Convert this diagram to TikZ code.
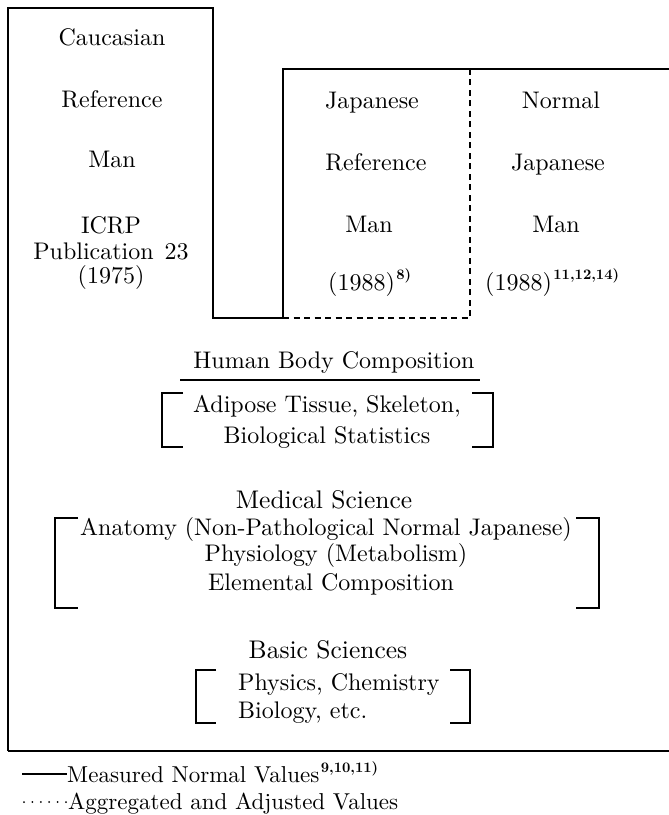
\documentclass[tikz,border=0pt]{standalone}
\usepackage{fontspec}
\setmainfont{lmroman10-regular.otf}[BoldFont=lmroman10-bold.otf]
\newcommand{\refsup}[1]{\kern1.5pt\raisebox{0.42em}{\fontsize{14.5}{14.5}\selectfont\bfseries #1}}
\begin{document}
\begin{tikzpicture}[x=1pt,y=-1pt,
  frameline/.style={line width=2.1pt, line join=miter},
  dashline/.style={line width=2.1pt, dash pattern=on 6pt off 4.5pt},
  bracketline/.style={line width=1.9pt},
  txt/.style={inner sep=0pt, anchor=base, font=\fontsize{24}{28}\selectfont},
  txtw/.style={inner sep=0pt, anchor=base west, font=\fontsize{24}{28}\selectfont},
  head/.style={inner sep=0pt, anchor=base, font=\fontsize{25.5}{30}\selectfont},
  legtxt/.style={inner sep=0pt, anchor=base west, font=\fontsize{23}{27}\selectfont},
]
\useasboundingbox (0,0) rectangle (669,815);

% frame coordinates
\coordinate (tl) at (8,8);
\coordinate (ctr) at (213,8);
\coordinate (cbr) at (213,318);
\coordinate (jbl) at (283,318);
\coordinate (jtl) at (283,69);
\coordinate (tr) at (669,69);
\coordinate (dtop) at (470,69);
\coordinate (dbot) at (470,318);
\coordinate (bl) at (8,751);
\coordinate (br) at (669,751);

\draw[frameline] (bl) -- (tl) -- (ctr) -- (cbr) -- (jbl) -- (jtl) -- (tr);
\draw[frameline] (bl) -- (br);
\draw[dashline] (jbl) -- (dbot) -- (dtop);

% Caucasian column
\node[txt] (c1) at (112,45) {Caucasian};
\node[txt] (c2) at (112,107) {Reference};
\node[txt] (c3) at (112,167) {Man};
\node[txt] (c4) at (111,233) {ICRP};
\node[txt] (c5) at (111,259) {Publication\hspace{3pt} 23};
\node[txt] (c6) at (111,283) {(1975)};

% Japanese Reference Man column
\node[txt] (j1) at (372,108) {Japanese};
\node[txt] (j2) at (376,170) {Reference};
\node[txt] (j3) at (369,232) {Man};
\node[txtw] (j4) at (328,290) {(1988)\refsup{8)}};

% Normal Japanese Man column
\node[txt] (n1) at (561,108) {Normal};
\node[txt] (n2) at (558,170) {Japanese};
\node[txt] (n3) at (556,232) {Man};
\node[txtw] (n4) at (485,290) {(1988)\refsup{11,12,14)}};

% Human body composition
\node[txt] (hbc) at (334,368) {Human Body Composition};
\coordinate (ulA) at (180,380);
\coordinate (ulB) at (480,380);
\draw[bracketline] (ulA) -- (ulB);
\node[txt] (ad1) at (327,412) {Adipose Tissue, Skeleton,};
\node[txt] (ad2) at (327,443) {Biological Statistics};
\coordinate (b1a) at (183,393);
\coordinate (b1b) at (162,393);
\coordinate (b1c) at (162,447);
\coordinate (b1d) at (183,447);
\coordinate (b1e) at (472,393);
\coordinate (b1f) at (493,393);
\coordinate (b1g) at (493,447);
\coordinate (b1h) at (472,447);
\draw[bracketline] (b1a) -- (b1b) -- (b1c) -- (b1d);
\draw[bracketline] (b1e) -- (b1f) -- (b1g) -- (b1h);

% Medical science
\node[head] (ms) at (324,508) {Medical Science};
\node[txt] (ms1) at (326,535) {Anatomy (Non-Pathological Normal Japanese)};
\node[txt] (ms2) at (336,561) {Physiology (Metabolism)};
\node[txt] (ms3) at (331,590) {Elemental Composition};
\coordinate (b2a) at (78,518);
\coordinate (b2b) at (55,518);
\coordinate (b2c) at (55,608);
\coordinate (b2d) at (78,608);
\coordinate (b2e) at (576,518);
\coordinate (b2f) at (599,518);
\coordinate (b2g) at (599,608);
\coordinate (b2h) at (576,608);
\draw[bracketline] (b2a) -- (b2b) -- (b2c) -- (b2d);
\draw[bracketline] (b2e) -- (b2f) -- (b2g) -- (b2h);

% Basic sciences
\node[head] (bs) at (328,658) {Basic Sciences};
\node[txtw] (bs1) at (238,690) {Physics, Chemistry};
\node[txtw] (bs2) at (238,718) {Biology, etc.};
\coordinate (b3a) at (216,670);
\coordinate (b3b) at (196,670);
\coordinate (b3c) at (196,723);
\coordinate (b3d) at (216,723);
\coordinate (b3e) at (450,670);
\coordinate (b3f) at (470,670);
\coordinate (b3g) at (470,723);
\coordinate (b3h) at (450,723);
\draw[bracketline] (b3a) -- (b3b) -- (b3c) -- (b3d);
\draw[bracketline] (b3e) -- (b3f) -- (b3g) -- (b3h);

% Legend
\coordinate (l1a) at (22,774);
\coordinate (l1b) at (67,774);
\draw[line width=1.5pt] (l1a) -- (l1b);
\node[legtxt] (leg1) at (67,782) {Measured Normal Values\refsup{9,10,11)}};
\coordinate (l2a) at (24,802);
\coordinate (l2b) at (66,802);
\draw[line width=2pt, line cap=round, dash pattern=on 0pt off 8.4pt] (l2a) -- (l2b);
\node[legtxt] (leg2) at (68,809) {Aggregated and Adjusted Values};
\end{tikzpicture}
\end{document}
